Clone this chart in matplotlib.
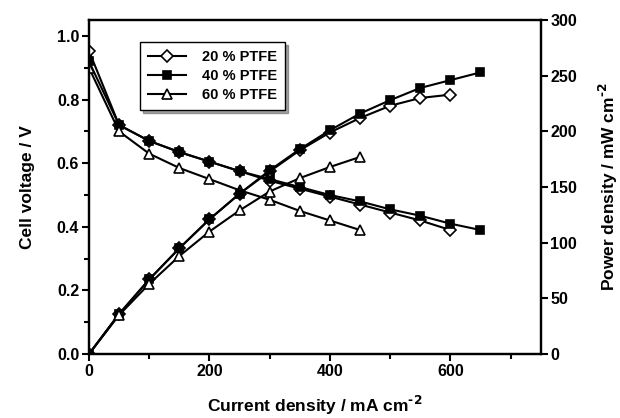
import matplotlib
matplotlib.use("Agg")
import matplotlib.pyplot as plt

plt.rcParams['font.family'] = ['Liberation Sans', 'DejaVu Sans']
plt.rcParams['font.weight'] = 'bold'
plt.rcParams['mathtext.default'] = 'bf'

# current density, mA cm-2
current_20 = [0, 50, 100, 150, 200, 250, 300, 350, 400, 450, 500, 550, 600]
current_40 = [0, 50, 100, 150, 200, 250, 300, 350, 400, 450, 500, 550, 600, 650]
current_60 = [0, 50, 100, 150, 200, 250, 300, 350, 400, 450]

# cell voltage, V
voltage_20 = [0.953, 0.72, 0.67, 0.635, 0.605, 0.575, 0.545, 0.52, 0.495, 0.47, 0.445, 0.42, 0.39]
voltage_40 = [0.92, 0.72, 0.67, 0.635, 0.605, 0.575, 0.55, 0.525, 0.50, 0.48, 0.455, 0.435, 0.41, 0.39]
voltage_60 = [0.90, 0.70, 0.63, 0.585, 0.55, 0.515, 0.485, 0.45, 0.42, 0.39]

# power density, mW cm-2
power_20 = [0, 36, 67, 95, 121, 144, 164, 183, 199, 212, 223, 230, 233]
power_40 = [0, 36, 67, 95, 121, 144, 165, 184, 201, 216, 228, 239, 246, 253]
power_60 = [0, 35, 63, 88, 110, 129, 146, 158, 168, 177]

labels = ['20 % PTFE', '40 % PTFE', '60 % PTFE']


def main() -> None:
    fig = plt.figure(figsize=(6.2, 4.18), dpi=100)
    ax = fig.add_axes([0.1435, 0.153, 0.7285, 0.799])
    ax2 = ax.twinx()

    lw = 1.5
    ms = 6.8
    mew = 1.2
    styles = [
        dict(marker='D', markerfacecolor='white', markersize=ms - 0.6),
        dict(marker='s', markerfacecolor='black', markersize=ms - 0.5),
        dict(marker='^', markerfacecolor='white', markersize=ms + 0.5),
    ]
    currents = [current_20, current_40, current_60]
    volts = [voltage_20, voltage_40, voltage_60]
    powers = [power_20, power_40, power_60]

    for cur, v, p, st, lab in zip(currents, volts, powers, styles, labels):
        ax.plot(cur, v, color='black', lw=lw, markeredgecolor='black',
                markeredgewidth=mew, label=lab, **st)
        ax2.plot(cur, p, color='black', lw=lw, markeredgecolor='black',
                 markeredgewidth=mew, **st)

    ax.set_xlim(0, 750)
    ax.set_ylim(0, 1.05)
    ax2.set_ylim(0, 300)

    ax.set_xticks([0, 200, 400, 600])
    ax.set_xticks([100, 300, 500, 700], minor=True)
    ax.set_yticks([0.0, 0.2, 0.4, 0.6, 0.8, 1.0])
    ax.set_yticks([0.1, 0.3, 0.5, 0.7, 0.9], minor=True)
    ax.set_yticklabels(['0.0', '0.2', '0.4', '0.6', '0.8', '1.0'])
    ax2.set_yticks([0, 50, 100, 150, 200, 250, 300])

    ax.tick_params(which='major', direction='out', length=5, width=1.5,
                   labelsize=11.5, top=False, right=False, pad=2)
    ax.tick_params(which='minor', direction='out', length=3.5, width=1.5,
                   top=False, right=False)
    ax2.tick_params(which='major', direction='out', length=5, width=1.5,
                    labelsize=11.5, pad=2)
    for a in (ax, ax2):
        for s in a.spines.values():
            s.set_linewidth(1.6)

    ax.set_xlabel('Current density / mA cm$^{\\text{-2}}$', fontsize=12.5,
                  fontweight='bold', labelpad=11)
    ax.set_ylabel('Cell voltage / V', fontsize=12.5, fontweight='bold', labelpad=16)
    ax2.set_ylabel('Power density / mW cm$^{\\text{-2}}$', fontsize=12.5,
                   fontweight='bold', labelpad=14)

    leg = ax.legend(loc='upper left', bbox_to_anchor=(0.113, 0.934),
                    borderaxespad=0, frameon=True, fancybox=False, shadow=True,
                    edgecolor='black', fontsize=10.5, handlelength=2.6,
                    borderpad=0.55, labelspacing=0.35, handletextpad=1.1)
    leg.get_frame().set_linewidth(1.0)
    for t in leg.get_texts():
        t.set_fontweight('bold')

    plt.savefig('out.png', dpi=100)


if __name__ == "__main__":
    main()
